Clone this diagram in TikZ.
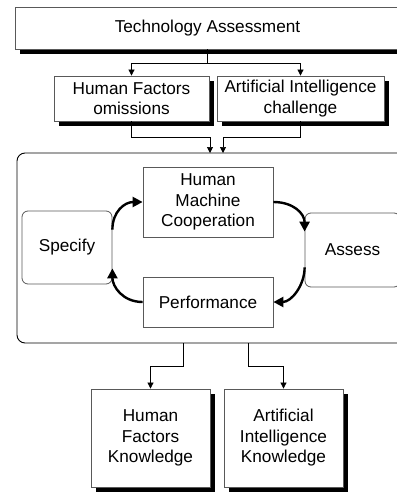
\documentclass[tikz,border=0pt]{standalone}
\usepackage{fontspec}
\setmainfont{Liberation Sans}
\usetikzlibrary{arrows.meta,shadows,calc}
\begin{document}
\begin{tikzpicture}[x=1pt,y=-1pt,
  box/.style={draw=black!65, line width=0.8pt, fill=white, align=center, inner sep=0pt, font=\fontsize{17.2}{20.5}\selectfont},
  shbox/.style={box, general shadow={fill=black, shadow xshift=5pt, shadow yshift=-5pt}},
  rbox/.style={box, rounded corners=6pt},
  conn/.style={draw=black, line width=0.7pt, -{Triangle[length=6pt,width=6pt]}},
  cyc/.style={draw=black, line width=2.4pt, -{Triangle[length=10pt,width=10pt]}}]
\useasboundingbox (0,0) rectangle (396,492);
% top
\node[shbox, minimum width=385pt, minimum height=42pt] (ta) at (207.5,28) {Technology Assessment};
\node[shbox, minimum width=155pt, minimum height=45pt] (hf) at (131.5,98.5) {Human Factors\\omissions};
\node[shbox, minimum width=167pt, minimum height=45pt] (ai) at (300.5,98.5) {Artificial Intelligence\\challenge};
% big rounded box
\node[draw=black, line width=0.9pt, rounded corners=8pt, minimum width=393pt, minimum height=190pt, inner sep=0pt] (big) at (213.5,248) {};
\node[box, minimum width=130pt, minimum height=70pt] (hmc) at (208,202) {Human\\Machine\\Cooperation};
\node[box, minimum width=130pt, minimum height=50pt] (perf) at (208,302) {Performance};
\node[rbox, minimum width=90pt, minimum height=73pt] (spec) at (67,247.5) {Specify};
\node[rbox, minimum width=95pt, minimum height=74pt] (assess) at (352.5,250) {Assess};
% bottom
\node[shbox, minimum width=119pt, minimum height=98pt] (hfk) at (150.5,438) {Human\\Factors\\Knowledge};
\node[shbox, minimum width=119pt, minimum height=98pt] (aik) at (283.5,438) {Artificial\\Intelligence\\Knowledge};
% connectors top
\draw[line width=0.7pt] (ta.south) -- ++(0,14) coordinate (split);
\draw[conn] (split) -| (hf.north);
\draw[conn] (split) -| (ai.north);
\coordinate (in1) at (210,153);
\coordinate (in2) at (223,153);
\draw[conn] (hf.south) -- ++(0,16) -| (in1);
\draw[conn] (ai.south) -- ++(0,16) -| (in2);
% connectors bottom
\coordinate (out1) at (183,343);
\coordinate (out2) at (248,343);
\draw[conn] (out1) -- ++(0,23) -| (hfk.north);
\draw[conn] (out2) -- ++(0,23) -| (aik.north);
% cycle
\draw[cyc] ($(spec.north east)+(0,19)$) .. controls +(0,-18) and +(-18,0) .. (hmc.west);
\draw[cyc] (hmc.east) .. controls +(20,0) and +(0,-18) .. ($(assess.north west)+(0,19)$);
\draw[cyc] ($(assess.south west)+(0,-20)$) .. controls +(0,18) and +(18,0) .. (perf.east);
\draw[cyc] (perf.west) .. controls +(-20,0) and +(0,18) .. ($(spec.south east)+(0,-16)$);
\end{tikzpicture}
\end{document}
